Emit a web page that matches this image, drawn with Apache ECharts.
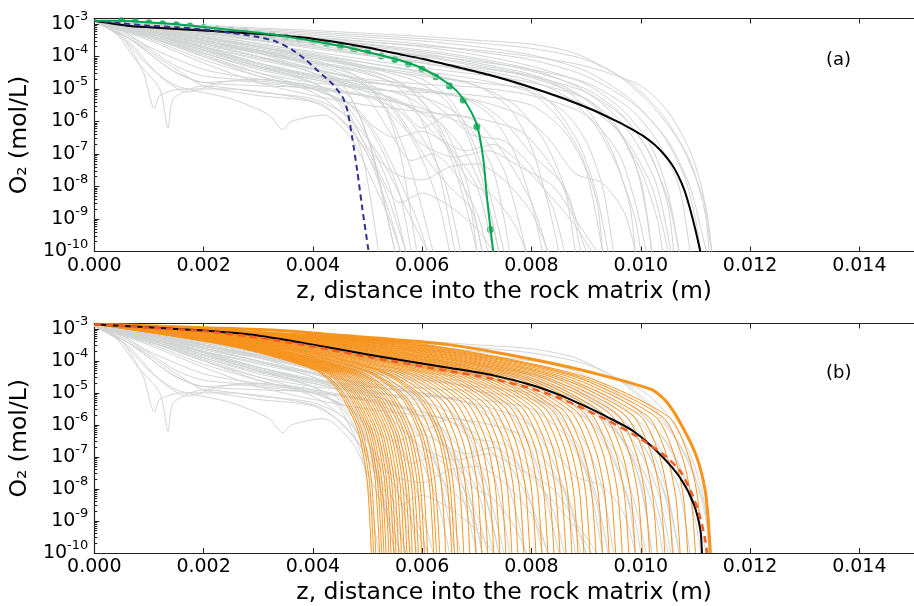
<!DOCTYPE html>
<html lang="en">
<head>
<meta charset="UTF-8">
<title>O2 profiles into the rock matrix</title>
<script src="https://cdn.jsdelivr.net/npm/echarts@6/dist/echarts.min.js"></script>
<style>
    html, body, #chart {
        width: 914px;
        height: 606px;
        margin: 0;
        padding: 0;
        background: #fff;
    }
</style>
</head>
<body>
<div id="chart"></div>
<script>
    // every profile is a list of [z in mm, log10 of O2 in mol/L]
    var grayLines = [
        [[0,-2.92],[0.3,-3.1],[0.6,-3.6],[0.9,-4.5],[1.1,-5.6],[1.2,-5.2],[1.6,-5.0],[2.5,-5.0],[3.5,-5.2],[4.2,-5.5],[4.8,-6.5],[5.3,-8],[5.7,-10]],
        [[0,-2.92],[0.4,-3.3],[0.8,-4.2],[1.2,-5],[1.35,-6.2],[1.45,-5.3],[2,-4.9],[3,-5.1],[4,-5.3],[4.6,-5.8],[5.2,-7],[5.8,-9],[6.1,-10]],
        [[0,-2.92],[0.5,-3.4],[1,-4.3],[1.5,-4.9],[2.5,-5.3],[3.2,-5.8],[3.45,-6.25],[3.6,-6.0],[4.2,-5.8],[4.7,-6.5],[5,-7.5],[5.4,-9],[5.6,-10]],
        [[0,-2.92],[0.5,-3.3],[1,-3.9],[1.5,-4.5],[2,-4.8],[3,-4.9],[4,-5.0],[4.6,-5.5],[5,-6.5],[5.4,-8],[5.7,-10]],
        [[0,-2.92],[0.6,-3.5],[1.2,-4.6],[1.7,-5.1],[2.3,-4.8],[3,-4.7],[4,-4.9],[5,-5.2],[6,-5.6],[7,-6.3],[7.5,-7.5],[7.9,-10]],
        [[0,-2.92],[0.5,-3.2],[1,-3.7],[2,-4.4],[3,-4.7],[4,-4.9],[4.5,-5.5],[4.9,-7],[5.2,-10]],
        [[0,-2.92],[1,-3.3],[2,-3.6],[3,-3.9],[4,-4.2],[5,-4.5],[5.6,-5],[6,-6],[6.3,-7.5],[6.6,-10]],
        [[0,-2.92],[1,-3.2],[2,-3.5],[3,-3.8],[4,-4.1],[4.8,-4.6],[5.3,-5.5],[5.6,-7],[5.9,-10]],
        [[0,-2.92],[1,-3.25],[2,-3.55],[3,-3.9],[4,-4.3],[4.6,-5.0],[5,-6.5],[5.3,-8.5],[5.5,-10]],
        [[0,-2.92],[1,-3.3],[2,-3.7],[3,-4.1],[4,-4.5],[4.7,-5.3],[5.1,-7],[5.5,-10]],
        [[0,-2.92],[1,-3.2],[2,-3.4],[3,-3.65],[4,-3.95],[5,-4.3],[6,-4.7],[6.5,-5.3],[6.9,-6.5],[7.2,-8],[7.5,-10]],
        [[0,-2.92],[1,-3.15],[2,-3.35],[3,-3.6],[4,-3.9],[5,-4.2],[6,-4.5],[7,-4.9],[7.6,-5.6],[8,-6.8],[8.3,-8.5],[8.5,-10]],
        [[0,-2.92],[1,-3.3],[2,-3.8],[3,-4.3],[4,-4.7],[5,-5.0],[6,-5.1],[7,-5.2],[8,-5.5],[8.6,-6.3],[9,-7.5],[9.3,-10]],
        [[0,-2.92],[1,-3.4],[2,-4.0],[3,-4.5],[4,-4.8],[5,-5.0],[5.5,-5.4],[6,-6.2],[6.5,-5.8],[7,-6],[7.5,-7],[8,-8.5],[8.3,-10]],
        [[0,-2.92],[1,-3.25],[2,-3.6],[3,-4.0],[4,-4.4],[5,-4.7],[6,-4.85],[7,-4.95],[8,-5.2],[9,-5.8],[9.6,-7],[9.9,-8.5],[10.1,-10]],
        [[0,-2.92],[1,-3.2],[2,-3.45],[3,-3.75],[4,-4.05],[5,-4.35],[6,-4.6],[7,-4.8],[8,-5.0],[9,-5.5],[9.7,-6.5],[10.2,-8],[10.5,-10]],
        [[0,-2.92],[1,-3.35],[2,-3.9],[3,-4.4],[3.8,-4.7],[4.5,-5.2],[5,-6],[5.5,-6.5],[6,-6.3],[6.5,-6.8],[7,-8],[7.3,-10]],
        [[0,-2.92],[1,-3.4],[2,-3.95],[3,-4.5],[4,-5.0],[4.8,-5.6],[5.2,-6.5],[5.5,-7.5],[5.9,-9],[6.1,-10]],
        [[0,-2.92],[1,-3.2],[2,-3.5],[3,-3.85],[4,-4.25],[4.9,-4.8],[5.4,-5.8],[5.8,-7.5],[6.2,-10]],
        [[0,-2.92],[1.5,-3.5],[3,-4.2],[4,-4.6],[5,-4.9],[5.8,-5.3],[6.4,-6.2],[6.8,-7.8],[7.1,-10]],
        [[0,-2.92],[1,-3.3],[2,-3.7],[3,-4.2],[4,-4.6],[5,-4.8],[6,-5.0],[7,-5.4],[7.5,-6],[8,-7],[8.6,-8],[8.9,-9.5],[9,-10]],
        [[0,-2.92],[1,-3.3],[2,-3.8],[3,-4.3],[4,-4.8],[4.6,-5.6],[5,-6.8],[5.5,-7.6],[6,-7.8],[6.5,-7.4],[7,-7.3],[7.5,-7.8],[8,-8.8],[8.3,-10]],
        [[0,-2.92],[1,-3.4],[2,-4.0],[3,-4.6],[4,-5.1],[4.7,-6.0],[5.1,-7.2],[5.6,-8.5],[6,-8.2],[6.5,-8.6],[7,-9.3],[7.3,-10]],
        [[0,-2.92],[1,-3.2],[2,-3.5],[3,-3.9],[4,-4.4],[5,-5.0],[5.8,-5.6],[6.3,-6.5],[6.8,-6.9],[7.3,-6.7],[7.8,-7.3],[8.3,-8.2],[8.8,-9.2],[9.1,-10]],
        [[0,-2.92],[1,-3.25],[2,-3.6],[3,-4],[4,-4.5],[5,-5.1],[5.5,-5.9],[6,-6.7],[6.6,-7.1],[7.2,-6.9],[7.8,-7.4],[8.4,-8.0],[8.8,-9],[9.2,-10]],
        [[0,-2.92],[2,-3.05],[4,-3.2],[6,-3.38],[7,-3.5],[8,-3.62],[8.8,-3.9],[9.6,-4.6],[10.2,-5.5],[10.7,-6.6],[11.0,-7.7],[11.2,-8.7],[11.3,-10]],
        [[0,-2.92],[2,-3.1],[4,-3.3],[6,-3.52],[7,-3.7],[8,-3.95],[9,-4.45],[9.8,-5.3],[10.4,-6.4],[10.8,-7.7],[11.0,-9],[11.1,-10]],
        [[0,-2.92],[2,-3.15],[4,-3.4],[6,-3.7],[7,-3.95],[8,-4.3],[9,-4.85],[9.7,-5.7],[10.2,-6.8],[10.5,-8.2],[10.7,-10]],
        [[0,-2.92],[2,-3.2],[4,-3.5],[6,-3.9],[7,-4.2],[8,-4.55],[8.8,-5.1],[9.5,-6.1],[10,-7.5],[10.3,-9],[10.4,-10]],
        [[0,-2.92],[2,-3.12],[4,-3.35],[6,-3.62],[7,-3.85],[8,-4.1],[9,-4.6],[9.9,-5.5],[10.5,-6.6],[10.9,-8],[11.1,-9.3],[11.2,-10]],
        [[0,-2.92],[2,-3.25],[4,-3.65],[6,-4.1],[7,-4.4],[8,-4.75],[8.7,-5.3],[9.2,-6.2],[9.6,-7.5],[9.9,-9],[10,-10]],
        [[0,-2.92],[2,-3.3],[4,-3.75],[6,-4.2],[7,-4.45],[7.8,-4.8],[8.4,-5.5],[8.9,-6.8],[9.2,-8.3],[9.4,-10]],
        [[0,-2.92],[2,-3.2],[4,-3.55],[6,-4.0],[7,-4.3],[8,-4.65],[9,-5.3],[9.6,-6.3],[10,-7.8],[10.2,-10]],
        [[0,-2.92],[1,-3.1],[3,-3.3],[5,-3.55],[7,-3.8],[8,-4.0],[9,-4.3],[10,-4.9],[10.5,-5.7],[10.9,-6.9],[11.15,-8.3],[11.25,-10]],
        [[0,-2.92],[2,-3.35],[4,-3.85],[5,-4.1],[6,-4.35],[7,-4.55],[8,-4.8],[9,-5.3],[9.5,-6.0],[9.9,-7.3],[10.1,-8.8],[10.2,-10]],
        [[0,-2.92],[2,-3.3],[4,-3.7],[5,-3.95],[6,-4.2],[7,-4.5],[7.5,-4.7],[8,-5.1],[8.5,-5.9],[8.9,-7],[9.2,-8.5],[9.3,-10]],
        [[0,-2.92],[2,-3.4],[3,-3.7],[4,-4.0],[5,-4.3],[6,-4.55],[7,-4.9],[7.7,-5.5],[8.2,-6.5],[8.6,-8],[8.8,-10]],
        [[0,-2.92],[1,-3.5],[2,-4.2],[3,-4.8],[4,-5.2],[5,-5.5],[6,-5.7],[7,-5.9],[7.8,-6.3],[8.3,-7.2],[8.7,-8.5],[8.9,-10]],
        [[0,-2.92],[0.8,-3.6],[1.5,-4.4],[2,-4.9],[3,-5.2],[4,-5.4],[4.5,-5.9],[4.9,-6.7],[5.1,-7.4],[5.4,-8.8],[5.6,-10]],
        [[0,-2.92],[1,-3.45],[2,-4.1],[3,-4.6],[4,-5],[4.6,-5.4],[5,-6.1],[5.3,-7],[5.6,-8.3],[5.8,-10]],
        [[0,-2.92],[1,-3.15],[2,-3.4],[3,-3.7],[4,-4.0],[5,-4.35],[5.8,-4.7],[6.4,-5.3],[6.8,-6.3],[7.1,-7.8],[7.4,-10]],
        [[0,-2.92],[1,-3.3],[2,-3.75],[3,-4.25],[4,-4.65],[5,-4.95],[6,-5.25],[6.6,-5.7],[7,-6.5],[7.3,-7.5],[7.5,-9],[7.6,-10]],
        [[0,-2.92],[0.7,-3.5],[1.4,-4.4],[2,-4.8],[2.6,-4.75],[3.5,-4.9],[4.5,-5.1],[5.5,-5.4],[6.3,-6],[6.8,-7],[7.2,-8.5],[7.4,-10]],
        [[0,-2.92],[1,-3.2],[2,-3.45],[3,-3.7],[4,-3.95],[5,-4.2],[6,-4.45],[7,-4.7],[8,-5.1],[8.6,-5.7],[9,-6.6],[9.3,-8],[9.5,-10]],
        [[0,-2.92],[1,-3.35],[2,-3.85],[3,-4.3],[4,-4.6],[4.5,-4.8],[5,-5.3],[5.4,-6.3],[5.8,-7.2],[6.2,-7],[6.6,-7.6],[7,-8.8],[7.2,-10]],
        [[0,-2.92],[2,-3.25],[4,-3.6],[6,-3.95],[7,-4.15],[8,-4.4],[9,-4.8],[9.8,-5.6],[10.3,-6.6],[10.7,-8],[10.9,-10]],
        [[0,-2.92],[2,-3.08],[4,-3.25],[6,-3.45],[7,-3.58],[8,-3.75],[9,-4.1],[9.8,-4.8],[10.4,-5.8],[10.9,-7.2],[11.15,-8.6],[11.3,-10]],
        [[0,-2.92],[2,-3.18],[4,-3.45],[6,-3.8],[7,-4.05],[8,-4.4],[8.8,-4.9],[9.4,-5.6],[9.9,-6.6],[10.3,-8],[10.55,-10]],
        [[0,-2.92],[1,-3.25],[2,-3.55],[3,-3.85],[4,-4.15],[5,-4.45],[5.6,-4.8],[6.1,-5.6],[6.5,-7],[6.8,-8.6],[7,-10]],
        [[0,-2.92],[1,-3.3],[2,-3.65],[3,-4.0],[4,-4.35],[4.8,-4.75],[5.4,-5.5],[5.9,-6.8],[6.3,-8.5],[6.5,-10]],
        [[0,-2.92],[1,-3.15],[2,-3.4],[3,-3.7],[4,-4.05],[5,-4.4],[5.7,-4.9],[6.2,-5.8],[6.6,-7.2],[6.9,-8.8],[7.0,-10]],
        [[0,-2.92],[1,-3.35],[2,-3.8],[3,-4.2],[4,-4.55],[5,-4.8],[6,-5.0],[6.8,-5.3],[7.3,-5.9],[7.7,-7],[8,-8.5],[8.2,-10]],
        [[0,-2.92],[2,-3.28],[4,-3.7],[6,-4.15],[7,-4.35],[8,-4.6],[9,-5.1],[9.7,-5.9],[10.2,-7.1],[10.5,-8.6],[10.6,-10]],
        [[0,-2.92],[2,-3.22],[4,-3.58],[6,-3.98],[7,-4.25],[8,-4.6],[8.6,-5],[9.1,-5.8],[9.5,-7],[9.8,-8.6],[9.9,-10]],
        [[0,-2.92],[1,-3.4],[2,-3.9],[3,-4.35],[4,-4.7],[4.8,-5.0],[5.5,-5.3],[6.1,-5.9],[6.5,-6.9],[6.9,-7.9],[7.3,-8.3],[7.7,-9.2],[7.9,-10]],
        [[0,-2.92],[0.5,-3.25],[1,-3.75],[1.5,-4.3],[2,-4.6],[3,-4.75],[4,-4.95],[5,-5.25],[5.6,-5.7],[6,-6.5],[6.4,-7.8],[6.7,-10]],
        [[0,-2.92],[2,-3.15],[4,-3.45],[6,-3.85],[7,-4.1],[8,-4.45],[9,-5.0],[9.6,-5.7],[10.1,-6.8],[10.5,-8.4],[10.7,-10]],
        [[0,-2.92],[1,-3.2],[2,-3.5],[3,-3.8],[4,-4.15],[5,-4.55],[5.8,-5.0],[6.4,-5.7],[6.9,-6.4],[7.5,-6.6],[8,-7.4],[8.4,-8.7],[8.6,-10]],
        [[0,-2.92],[1,-3.3],[2,-3.7],[3,-4.05],[4,-4.4],[5,-4.75],[6,-5.05],[7,-5.35],[7.8,-5.8],[8.3,-6.5],[8.8,-7.6],[9.3,-7.9],[9.7,-8.8],[9.9,-10]],
        [[0,-2.92],[1,-3.22],[2,-3.5],[3,-3.82],[4,-4.2],[4.8,-4.6],[5.3,-5.2],[5.7,-6.1],[6.1,-7.2],[6.5,-8],[6.9,-8.7],[7.1,-10]]
    ];

    var blackA = [[0,-2.9],[0.6,-3.05],[1,-3.1],[2,-3.2],[3,-3.3],[4,-3.45],[5,-3.72],[5.5,-3.9],[6,-4.07],[6.7,-4.35],[7.3,-4.6],[7.9,-4.9],[8.6,-5.3],[9.1,-5.63],[9.51,-5.95],[9.8,-6.2],[10.05,-6.45],[10.25,-6.71],[10.42,-7.0],[10.56,-7.3],[10.68,-7.65],[10.8,-8.12],[10.9,-8.68],[11.0,-9.33],[11.09,-10]];
    var greenLine = [[0,-2.9],[0.5,-2.9],[1,-2.95],[1.5,-3.01],[2,-3.09],[2.5,-3.18],[3,-3.27],[3.5,-3.38],[4,-3.52],[4.5,-3.67],[5,-3.86],[5.5,-4.07],[6,-4.36],[6.5,-4.86],[6.75,-5.3],[7,-6.1],[7.12,-7.18],[7.19,-8.42],[7.3,-10]];
    var greenDots = [[0.5,-2.9],[0.75,-2.93],[1,-2.96],[1.25,-2.99],[1.5,-3.02],[1.75,-3.06],[2,-3.11],[2.25,-3.15],[2.5,-3.19],[2.75,-3.23],[3,-3.29],[3.25,-3.33],[3.5,-3.39],[3.75,-3.46],[4,-3.53],[4.25,-3.61],[4.5,-3.68],[4.75,-3.78],[5,-3.87],[5.25,-3.98],[5.5,-4.09],[5.75,-4.23],[6,-4.39],[6.25,-4.62],[6.5,-4.91],[6.75,-5.34],[7,-6.16],[7.25,-9.32]];
    var blueDashed = [[0,-2.9],[0.5,-2.98],[1,-3.05],[1.5,-3.1],[2,-3.17],[2.5,-3.27],[3,-3.4],[3.33,-3.54],[3.63,-3.8],[3.87,-4.1],[4.11,-4.47],[4.35,-4.83],[4.54,-5.24],[4.63,-5.65],[4.72,-6.5],[4.81,-7.5],[4.9,-8.62],[5.02,-10]];

    var blackB = [[0,-2.85],[1,-2.95],[2,-3.05],[2.9,-3.18],[4,-3.49],[5,-3.8],[6.48,-4.21],[7.3,-4.45],[8,-4.75],[8.5,-5.05],[8.9,-5.35],[9.4,-5.76],[9.88,-6.21],[10.36,-6.93],[10.72,-7.65],[10.97,-8.47],[11.09,-9.28],[11.12,-10]];
    var redDashed = [[0,-2.85],[1,-2.96],[2,-3.07],[3,-3.27],[4,-3.55],[5,-3.87],[6.48,-4.31],[7.3,-4.56],[8,-4.86],[8.5,-5.15],[8.9,-5.45],[9.4,-5.86],[9.88,-6.31],[10.4,-6.9],[10.72,-7.44],[10.95,-8.2],[11.09,-8.9],[11.18,-9.6],[11.21,-10]];
    var orangeThick = [[0,-2.85],[1,-2.9],[2,-2.96],[3.4,-3.05],[4.5,-3.2],[6.48,-3.49],[8.48,-4.11],[10.18,-4.88],[10.48,-5.29],[10.78,-6.11],[11.03,-7.03],[11.18,-8.06],[11.24,-9.08],[11.27,-10]];
    var orangeLines = [
        [[0,-2.85],[2.54,-3.55],[4.06,-4.30],[4.47,-4.95],[4.82,-6.15],[4.99,-7.70],[5.07,-10]],
        [[0,-2.85],[2.56,-3.55],[4.09,-4.30],[4.51,-4.96],[4.86,-6.16],[5.03,-7.70],[5.11,-10]],
        [[0,-2.85],[2.58,-3.55],[4.12,-4.30],[4.55,-4.97],[4.90,-6.17],[5.07,-7.71],[5.15,-10]],
        [[0,-2.85],[2.61,-3.54],[4.18,-4.31],[4.62,-4.98],[4.97,-6.18],[5.14,-7.72],[5.22,-10]],
        [[0,-2.85],[2.63,-3.54],[4.21,-4.31],[4.66,-4.99],[5.01,-6.18],[5.18,-7.72],[5.26,-10]],
        [[0,-2.85],[2.65,-3.54],[4.24,-4.31],[4.70,-4.99],[5.05,-6.19],[5.22,-7.73],[5.30,-10]],
        [[0,-2.85],[2.67,-3.54],[4.27,-4.31],[4.74,-5.00],[5.09,-6.20],[5.26,-7.73],[5.34,-10]],
        [[0,-2.85],[2.70,-3.54],[4.31,-4.31],[4.79,-5.01],[5.14,-6.21],[5.31,-7.74],[5.39,-10]],
        [[0,-2.85],[2.72,-3.54],[4.34,-4.31],[4.83,-5.02],[5.18,-6.21],[5.35,-7.74],[5.43,-10]],
        [[0,-2.85],[2.74,-3.54],[4.38,-4.32],[4.88,-5.03],[5.23,-6.22],[5.40,-7.75],[5.48,-10]],
        [[0,-2.85],[2.76,-3.53],[4.42,-4.32],[4.92,-5.03],[5.27,-6.23],[5.44,-7.75],[5.52,-10]],
        [[0,-2.85],[2.79,-3.53],[4.46,-4.32],[4.97,-5.04],[5.32,-6.24],[5.49,-7.76],[5.57,-10]],
        [[0,-2.85],[2.81,-3.53],[4.50,-4.32],[5.02,-5.05],[5.37,-6.25],[5.54,-7.76],[5.62,-10]],
        [[0,-2.85],[2.84,-3.53],[4.54,-4.32],[5.07,-5.06],[5.42,-6.26],[5.59,-7.77],[5.67,-10]],
        [[0,-2.85],[2.86,-3.53],[4.58,-4.32],[5.12,-5.06],[5.47,-6.26],[5.64,-7.77],[5.72,-10]],
        [[0,-2.85],[2.89,-3.53],[4.62,-4.32],[5.17,-5.07],[5.52,-6.27],[5.69,-7.78],[5.77,-10]],
        [[0,-2.85],[2.91,-3.52],[4.66,-4.33],[5.22,-5.08],[5.57,-6.28],[5.74,-7.78],[5.82,-10]],
        [[0,-2.85],[2.94,-3.52],[4.70,-4.33],[5.28,-5.09],[5.63,-6.29],[5.80,-7.79],[5.88,-10]],
        [[0,-2.85],[2.97,-3.52],[4.74,-4.33],[5.33,-5.09],[5.68,-6.29],[5.85,-7.80],[5.93,-10]],
        [[0,-2.85],[3.00,-3.52],[4.79,-4.33],[5.39,-5.10],[5.74,-6.30],[5.91,-7.81],[5.99,-10]],
        [[0,-2.85],[3.02,-3.52],[4.83,-4.33],[5.44,-5.11],[5.79,-6.31],[5.96,-7.81],[6.04,-10]],
        [[0,-2.85],[3.05,-3.52],[4.88,-4.33],[5.50,-5.12],[5.85,-6.32],[6.02,-7.82],[6.10,-10]],
        [[0,-2.85],[3.11,-3.51],[4.97,-4.33],[5.61,-5.13],[5.96,-6.33],[6.13,-7.83],[6.21,-10]],
        [[0,-2.85],[3.13,-3.51],[5.01,-4.33],[5.66,-5.14],[6.01,-6.34],[6.18,-7.83],[6.26,-10]],
        [[0,-2.85],[3.16,-3.51],[5.06,-4.34],[5.72,-5.15],[6.07,-6.35],[6.24,-7.84],[6.32,-10]],
        [[0,-2.85],[3.22,-3.51],[5.14,-4.34],[5.83,-5.16],[6.18,-6.36],[6.35,-7.85],[6.43,-10]],
        [[0,-2.85],[3.27,-3.51],[5.23,-4.34],[5.94,-5.18],[6.29,-6.38],[6.46,-7.86],[6.54,-10]],
        [[0,-2.85],[3.30,-3.50],[5.28,-4.34],[5.99,-5.18],[6.34,-6.38],[6.51,-7.86],[6.59,-10]],
        [[0,-2.85],[3.33,-3.50],[5.32,-4.34],[6.05,-5.19],[6.40,-6.39],[6.57,-7.87],[6.65,-10]],
        [[0,-2.85],[3.38,-3.50],[5.41,-4.35],[6.16,-5.21],[6.51,-6.41],[6.68,-7.88],[6.76,-10]],
        [[0,-2.85],[3.44,-3.50],[5.50,-4.35],[6.27,-5.22],[6.62,-6.42],[6.79,-7.89],[6.87,-10]],
        [[0,-2.85],[3.49,-3.49],[5.58,-4.35],[6.38,-5.24],[6.73,-6.44],[6.90,-7.90],[6.98,-10]],
        [[0,-2.85],[3.55,-3.49],[5.67,-4.35],[6.49,-5.25],[6.84,-6.45],[7.01,-7.91],[7.09,-10]],
        [[0,-2.85],[3.60,-3.49],[5.76,-4.36],[6.60,-5.27],[6.95,-6.47],[7.12,-7.92],[7.20,-10]],
        [[0,-2.85],[3.66,-3.48],[5.85,-4.36],[6.71,-5.28],[7.06,-6.48],[7.23,-7.93],[7.31,-10]],
        [[0,-2.85],[3.71,-3.48],[5.94,-4.36],[6.82,-5.30],[7.17,-6.50],[7.34,-7.94],[7.42,-10]],
        [[0,-2.85],[3.77,-3.48],[6.02,-4.36],[6.93,-5.31],[7.28,-6.51],[7.45,-7.95],[7.53,-10]],
        [[0,-2.85],[3.82,-3.48],[6.11,-4.37],[7.04,-5.33],[7.39,-6.53],[7.56,-7.96],[7.64,-10]],
        [[0,-2.85],[3.88,-3.47],[6.20,-4.37],[7.15,-5.34],[7.50,-6.54],[7.67,-7.97],[7.75,-10]],
        [[0,-2.85],[3.93,-3.47],[6.29,-4.37],[7.26,-5.36],[7.61,-6.56],[7.78,-7.98],[7.86,-10]],
        [[0,-2.85],[3.99,-3.47],[6.38,-4.38],[7.37,-5.37],[7.72,-6.57],[7.89,-7.99],[7.97,-10]],
        [[0,-2.85],[4.04,-3.46],[6.46,-4.38],[7.48,-5.39],[7.83,-6.59],[8.00,-8.00],[8.08,-10]],
        [[0,-2.85],[4.10,-3.46],[6.55,-4.38],[7.59,-5.40],[7.94,-6.60],[8.11,-8.02],[8.19,-10]],
        [[0,-2.85],[4.15,-3.46],[6.64,-4.38],[7.70,-5.42],[8.05,-6.62],[8.22,-8.03],[8.30,-10]],
        [[0,-2.85],[4.21,-3.45],[6.73,-4.39],[7.81,-5.43],[8.16,-6.63],[8.33,-8.04],[8.41,-10]],
        [[0,-2.85],[4.26,-3.45],[6.82,-4.39],[7.92,-5.45],[8.27,-6.65],[8.44,-8.05],[8.52,-10]],
        [[0,-2.85],[4.32,-3.45],[6.90,-4.39],[8.03,-5.46],[8.38,-6.66],[8.55,-8.06],[8.63,-10]],
        [[0,-2.85],[4.37,-3.44],[6.99,-4.39],[8.14,-5.48],[8.49,-6.68],[8.66,-8.07],[8.74,-10]],
        [[0,-2.85],[4.43,-3.44],[7.08,-4.40],[8.25,-5.49],[8.60,-6.69],[8.77,-8.08],[8.85,-10]],
        [[0,-2.85],[4.48,-3.44],[7.17,-4.40],[8.36,-5.51],[8.71,-6.71],[8.88,-8.09],[8.96,-10]],
        [[0,-2.85],[4.54,-3.43],[7.26,-4.40],[8.47,-5.52],[8.82,-6.72],[8.99,-8.10],[9.07,-10]],
        [[0,-2.85],[4.59,-3.43],[7.34,-4.41],[8.58,-5.54],[8.93,-6.74],[9.10,-8.11],[9.18,-10]],
        [[0,-2.85],[4.65,-3.43],[7.44,-4.41],[8.70,-5.55],[9.05,-6.75],[9.22,-8.12],[9.30,-10]],
        [[0,-2.85],[4.71,-3.42],[7.54,-4.41],[8.82,-5.57],[9.17,-6.77],[9.34,-8.13],[9.42,-10]],
        [[0,-2.85],[4.77,-3.42],[7.63,-4.41],[8.94,-5.58],[9.29,-6.78],[9.46,-8.15],[9.54,-10]],
        [[0,-2.85],[4.83,-3.42],[7.73,-4.42],[9.06,-5.60],[9.41,-6.80],[9.58,-8.16],[9.66,-10]],
        [[0,-2.85],[4.89,-3.41],[7.82,-4.42],[9.18,-5.61],[9.53,-6.81],[9.70,-8.17],[9.78,-10]],
        [[0,-2.85],[4.95,-3.41],[7.92,-4.42],[9.30,-5.63],[9.65,-6.83],[9.82,-8.18],[9.90,-10]],
        [[0,-2.85],[5.02,-3.41],[8.02,-4.42],[9.43,-5.64],[9.78,-6.84],[9.95,-8.19],[10.03,-10]],
        [[0,-2.85],[5.08,-3.40],[8.13,-4.43],[9.56,-5.66],[9.91,-6.86],[10.08,-8.20],[10.16,-10]],
        [[0,-2.85],[5.15,-3.40],[8.24,-4.43],[9.70,-5.67],[10.05,-6.87],[10.22,-8.21],[10.30,-10]],
        [[0,-2.85],[5.22,-3.40],[8.35,-4.43],[9.84,-5.69],[10.19,-6.89],[10.36,-8.22],[10.44,-10]],
        [[0,-2.85],[5.29,-3.39],[8.46,-4.44],[9.98,-5.70],[10.33,-6.90],[10.50,-8.23],[10.58,-10]],
        [[0,-2.85],[5.36,-3.39],[8.58,-4.44],[10.12,-5.72],[10.47,-6.92],[10.64,-8.24],[10.72,-10]],
        [[0,-2.85],[5.43,-3.39],[8.69,-4.44],[10.26,-5.73],[10.61,-6.93],[10.78,-8.25],[10.86,-10]],
        [[0,-2.85],[5.50,-3.38],[8.80,-4.45],[10.40,-5.75],[10.75,-6.95],[10.92,-8.26],[11.00,-10]],
        [[0,-2.85],[5.56,-3.38],[8.90,-4.45],[10.52,-5.76],[10.87,-6.96],[11.04,-8.27],[11.12,-10]]
    ];

    var panelLabels = ["(a)", "(b)"];
    var xMin = 0, xMax = 0.015, xStep = 0.002;
    var yMin = 1e-10, yMax = 1.48e-3;

    var FONT = "DejaVu Sans";
    var AXIS = "#222";

    function toData(pts) {
        return pts.map(function (p) {
            return [p[0] / 1000, Math.pow(10, p[1])];
        });
    }

    function line(pts, panel, color, width, extra) {
        var s = {
            type: "line",
            xAxisIndex: panel * 2,
            yAxisIndex: panel,
            data: toData(pts),
            symbol: "none",
            smooth: 0.25,
            silent: true,
            animation: false,
            lineStyle: {color: color, width: width}
        };
        if (extra) {
            for (var k in extra) s.lineStyle[k] = extra[k];
        }
        return s;
    }

    function xAxis(panel, top) {
        return {
            type: "value",
            gridIndex: panel,
            position: top ? "top" : "bottom",
            min: xMin,
            max: xMax,
            interval: xStep,
            name: top ? "" : "z, distance into the rock matrix (m)",
            nameLocation: "middle",
            nameGap: 28,
            nameTextStyle: {fontFamily: FONT, fontSize: 23.5, color: "#000"},
            axisLine: {show: true, onZero: false, lineStyle: {color: AXIS, width: 1.2}},
            axisTick: {show: true, inside: true, length: 5, lineStyle: {color: AXIS}},
            axisLabel: {
                show: !top,
                showMaxLabel: false,
                margin: 5,
                fontFamily: FONT,
                fontSize: 19,
                color: "#000",
                formatter: function (v) { return v.toFixed(3); }
            },
            splitLine: {show: false}
        };
    }

    function yAxis(panel) {
        return {
            type: "log",
            logBase: 10,
            gridIndex: panel,
            min: yMin,
            max: yMax,
            splitNumber: 7,
            name: "O\u2082 (mol/L)",
            nameLocation: "middle",
            nameGap: 59,
            nameTextStyle: {fontFamily: FONT, fontSize: 23.5, color: "#000"},
            axisLine: {show: true, lineStyle: {color: AXIS, width: 1.2}},
            axisTick: {show: true, inside: true, length: 5, lineStyle: {color: AXIS}},
            minorTick: {show: true, splitNumber: 9, length: 3, lineStyle: {color: AXIS}},
            axisLabel: {
                margin: 6,
                formatter: function (v) {
                    var e = Math.log(v) / Math.LN10;
                    var r = Math.round(e);
                    if (Math.abs(e - r) > 0.01) return "";
                    return "{b|10}{s|" + r + "}";
                },
                rich: {
                    b: {fontFamily: FONT, fontSize: 19, color: "#000"},
                    s: {fontFamily: FONT, fontSize: 13, color: "#000", padding: [0, 0, 14, 0]}
                }
            },
            splitLine: {show: false}
        };
    }

    var series = [];
    // panel (a)
    grayLines.forEach(function (g) { series.push(line(g, 0, "#d2d3d3", 1)); });
    series.push(line(blackA, 0, "#000", 2));
    series.push(line(blueDashed, 0, "#2e3192", 2, {type: [6, 4]}));
    series.push(line(greenLine, 0, "#00a651", 2));
    series.push({
        type: "scatter",
        xAxisIndex: 0,
        yAxisIndex: 0,
        data: toData(greenDots),
        symbolSize: 7,
        silent: true,
        animation: false,
        itemStyle: {color: "#00a651"}
    });
    // panel (b)
    grayLines.forEach(function (g) { series.push(line(g, 1, "#d2d3d3", 1)); });
    orangeLines.forEach(function (o) { series.push(line(o, 1, "#f7941d", 1)); });
    series.push(line(orangeThick, 1, "#f7941d", 3));
    series.push(line(blackB, 1, "#000", 2));
    series.push(line(redDashed, 1, "#f15a29", 2.5, {type: [7, 5]}));

    var chart = echarts.init(document.getElementById("chart"), null, {renderer: "canvas"});
    chart.setOption({
        animation: false,
        backgroundColor: "#fff",
        grid: [
            {left: 94, top: 18.5, width: 824, height: 233},
            {left: 94, top: 323.5, width: 824, height: 233}
        ],
        xAxis: [xAxis(0, false), xAxis(0, true), xAxis(1, false), xAxis(1, true)],
        yAxis: [yAxis(0), yAxis(1)],
        graphic: [
            {type: "text", left: 826, top: 51, style: {text: panelLabels[0], font: "18px " + FONT, fill: "#000"}},
            {type: "text", left: 826, top: 364, style: {text: panelLabels[1], font: "18px " + FONT, fill: "#000"}}
        ],
        series: series
    });
</script>
</body>
</html>
